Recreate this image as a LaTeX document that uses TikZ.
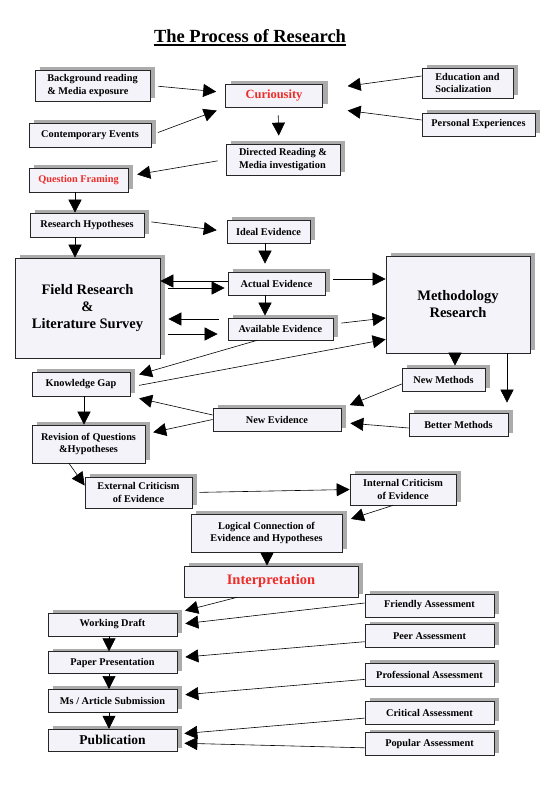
\documentclass[tikz,border=0pt]{standalone}
\usepackage{fontspec}
\setmainfont{Liberation Serif}
\usetikzlibrary{positioning, shadows, arrows.meta}
\definecolor{boxfill}{RGB}{245,243,250}
\definecolor{boxred}{RGB}{238,45,40}

\begin{document}
\begin{tikzpicture}[->,>={Triangle[length=13pt,width=13pt]},semithick,x=1pt,y=1pt,
    box/.style={draw=black!85,fill=boxfill,line width=0.7pt,inner sep=2pt,align=center,
      font=\fontsize{10.3}{12.3}\selectfont\bfseries,
      drop shadow={shadow xshift=5pt,shadow yshift=3pt,fill=black!33,opacity=1}},
    red text/.style={text=boxred},
    big text/.style={font=\fontsize{14.5}{17}\selectfont\bfseries},
    assess/.style={box,minimum width=129pt,minimum height=23pt}]

    \path[-,fill=white,use as bounding box] (0,0) rectangle (548,-788);

    \node[font=\fontsize{18.5}{22}\selectfont\bfseries,inner sep=0pt,anchor=base] (title) at (250,-42.5) {The Process of Research};
    \draw[-,line width=1.2pt] ([yshift=-2.5pt]title.base west) -- ([yshift=-2.5pt]title.base east);

    \node[box,align=left,minimum width=115pt,minimum height=31pt] (bg) at (92.5,-85.5) {Background reading\\\& Media exposure};
    \node[box,red text,font=\fontsize{12.5}{15}\selectfont\bfseries,minimum width=97pt,minimum height=23pt] (cur) at (274,-95.5) {Curiousity};
    \node[box,align=left,minimum width=91pt,minimum height=30pt] (edu) at (467.5,-83) {Education and\\Socialization};
    \node[box,minimum width=113pt,minimum height=23pt] (pe) at (478.5,-124.5) {Personal Experiences};
    \node[box,minimum width=122pt,minimum height=24pt] (ce) at (90,-135) {Contemporary Events};
    \node[box,align=left,minimum width=114pt,minimum height=31pt] (dr) at (283,-159.5) {Directed Reading \&\\Media investigation};
    \node[box,red text,minimum width=99pt,minimum height=24pt] (qf) at (78.5,-180) {Question Framing};
    \node[box,minimum width=114pt,minimum height=24pt] (rh) at (87,-225) {Research Hypotheses};
    \node[box,minimum width=83pt,minimum height=23pt] (ie) at (268.5,-231.5) {Ideal Evidence};
    \node[box,big text,minimum width=145pt,minimum height=100pt] (fr) at (87.5,-308) {Field Research\\\&\\Literature Survey};
    \node[box,minimum width=97pt,minimum height=23pt] (ae) at (276.5,-283.5) {Actual Evidence};
    \node[box,minimum width=105pt,minimum height=22pt] (av) at (280.5,-329) {Available Evidence};
    \node[box,big text,minimum width=144pt,minimum height=97pt] (mr) at (458,-304.5) {Methodology\\Research};
    \node[box,minimum width=98pt,minimum height=24pt] (kg) at (81,-384) {Knowledge Gap};
    \node[box,minimum width=83pt,minimum height=23pt] (nm) at (443.5,-379.5) {New Methods};
    \node[box,minimum width=128pt,minimum height=23pt] (ne) at (277,-419.5) {New Evidence};
    \node[box,minimum width=99pt,minimum height=23pt] (bm) at (458.5,-424.5) {Better Methods};
    \node[box,minimum width=113pt,minimum height=38pt] (rev) at (88.5,-444) {Revision of Questions\\\&Hypotheses};
    \node[box,minimum width=107pt,minimum height=31pt] (ec) at (138.5,-492.5) {External Criticism\\of Evidence};
    \node[box,minimum width=106pt,minimum height=31pt] (ic) at (403,-489.5) {Internal Criticism\\of Evidence};
    \node[box,minimum width=151pt,minimum height=38pt] (lc) at (266.5,-533) {Logical Connection of\\Evidence and Hypotheses};
    \node[box,red text,big text,minimum width=174pt,minimum height=31pt] (in) at (271,-581.5) {Interpretation};

    \node[box,minimum width=129pt,minimum height=23pt] (wd) at (112.5,-624.5) {Working Draft};
    \node[box,minimum width=129pt,minimum height=22pt,below=15pt of wd] (pp) {Paper Presentation};
    \node[box,minimum width=129pt,minimum height=23pt,below=15pt of pp] (ms) {Ms / Article Submission};
    \node[box,font=\fontsize{13.5}{16}\selectfont\bfseries,minimum width=129pt,minimum height=22pt,below=16pt of ms] (pub) {Publication};

    \node[assess] (fa) at (429.5,-605.5) {Friendly Assessment};
    \node[assess,below=7pt of fa] (pa) {Peer Assessment};
    \node[assess,below=15pt of pa] (pra) {Professional Assessment};
    \node[assess,below=14pt of pra] (ca) {Critical Assessment};
    \node[assess,below=8pt of ca] (popa) {Popular Assessment};

    \path
      (bg.east) edge[shorten <=8pt,shorten >=9pt] ([yshift=3pt]cur.west)
      (ce.east) edge[shorten <=7pt,shorten >=9pt] (cur.south west)
      ([yshift=7pt]edu.west) edge[shorten >=25pt] ([yshift=6pt]cur.east)
      ([yshift=4.5pt]pe.west) edge[shorten >=25pt] (cur.south east)
      ([xshift=4pt]cur.south) edge[shorten <=8pt,shorten >=8pt] ([xshift=-4pt]dr.north)
      (dr.west) edge[shorten <=8pt,shorten >=9pt] ([yshift=4pt]qf.east)
      ([xshift=-3.5pt]qf.south) edge ([xshift=-12pt]rh.north)
      ([yshift=4pt]rh.east) edge[shorten <=7pt,shorten >=10pt] (ie.west)
      ([xshift=-12pt]rh.south) edge ([xshift=-12.5pt]fr.north)
      ([xshift=-3.5pt]ie.south) edge[shorten >=8pt] ([xshift=-11.5pt]ae.north)
      ([yshift=2.5pt]ae.west) edge ([yshift=27pt]fr.east)
      ([yshift=20pt]fr.east) edge[shorten <=8pt,shorten >=3pt] ([yshift=-4.5pt]ae.west)
      ([xshift=-11.5pt]ae.south) edge[shorten >=2pt] ([xshift=-15.5pt]av.north)
      ([yshift=4.5pt]ae.east) edge[shorten <=8pt] ([yshift=25.5pt]mr.west)
      ([yshift=10pt]av.west) edge[shorten <=9pt,shorten >=8pt] ([yshift=-11pt]fr.east)
      ([yshift=-26pt]fr.east) edge[shorten <=8pt,shorten >=10pt] ([yshift=-5pt]av.west)
      ([yshift=5pt]av.east) edge[shorten <=8pt] ([yshift=-13.5pt]mr.west)
      ([xshift=-23.5pt]av.south) edge[shorten >=9pt] ([yshift=7pt]kg.east)
      ([yshift=-3pt]kg.east) edge[shorten <=9pt] ([yshift=14pt]mr.south west)
      ([xshift=-3pt]mr.south) edge[shorten >=2pt] ([xshift=11.5pt]nm.north)
      ([xshift=49pt]mr.south) edge[shorten >=10pt] ([xshift=48.5pt]bm.north)
      ([yshift=-4.5pt]nm.west) edge[shorten >=9pt] ([yshift=11pt]ne.east)
      ([yshift=-3.5pt]bm.west) edge[shorten >=9pt] ([yshift=-3pt]ne.east)
      ([yshift=4.5pt]ne.west) edge[shorten >=9pt] (kg.south east)
      (ne.west) edge[shorten >=8pt] ([yshift=10pt]rev.east)
      ([xshift=3pt]kg.south) edge ([xshift=-4.5pt]rev.north)
      ([xshift=-19.5pt]rev.south) edge ([yshift=7pt]ec.west)
      (ec.east) edge[shorten <=7pt] (ic.west)
      ([xshift=-10pt]ic.south) edge[shorten >=9pt] ([yshift=-8pt]lc.north east)
      ([xshift=0.5pt]lc.south) edge ([xshift=-4pt]in.north)
      ([xshift=-34pt]in.south) edge[shorten >=8pt] (wd.north east)
      ([yshift=2.5pt]fa.west) edge[shorten >=8pt] (wd.east)
      ([xshift=-3.5pt]wd.south) edge ([xshift=-3.5pt]pp.north)
      ([yshift=-5.5pt]pa.west) edge[shorten >=8pt] ([yshift=5pt]pp.east)
      ([xshift=-3.5pt]pp.south) edge ([xshift=-3.5pt]ms.north)
      ([yshift=-4.5pt]pra.west) edge[shorten >=8pt] ([yshift=5.5pt]ms.east)
      ([xshift=-3.5pt]ms.south) edge ([xshift=-3.5pt]pub.north)
      ([yshift=-5.5pt]ca.west) edge[shorten >=7pt] ([yshift=6pt]pub.east)
      ([yshift=-3.5pt]popa.west) edge[shorten >=7pt] ([yshift=-3pt]pub.east);
\end{tikzpicture}
\end{document}
